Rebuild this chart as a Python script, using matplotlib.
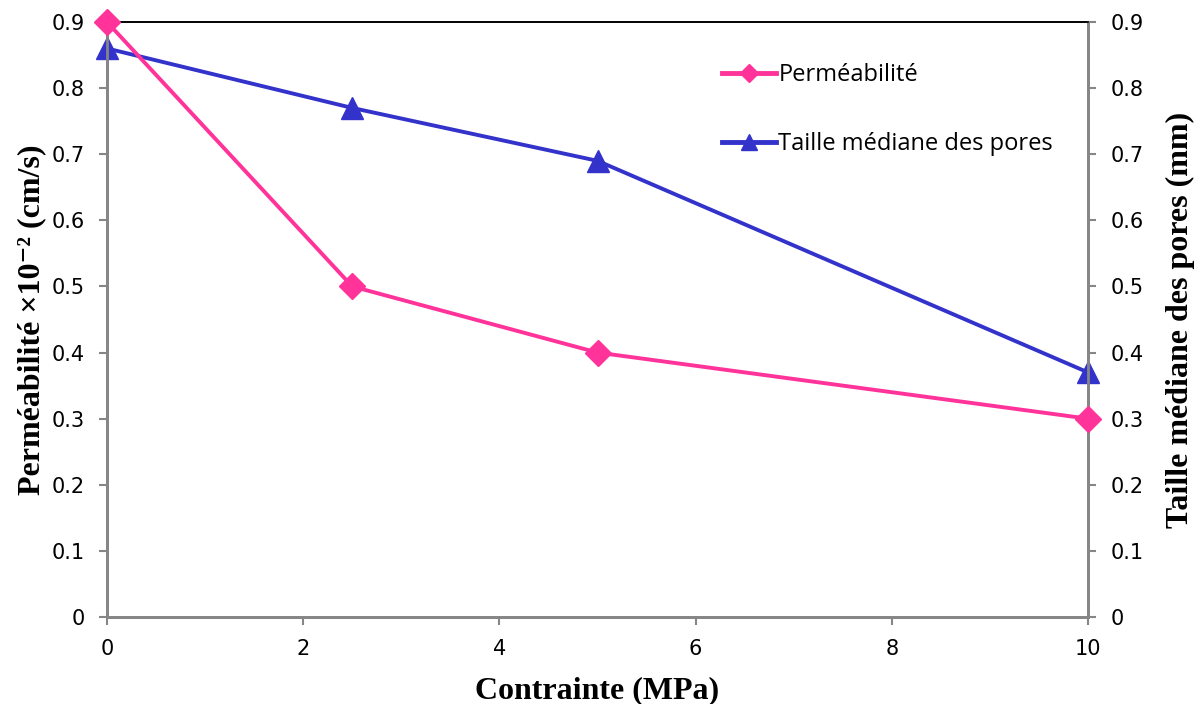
import matplotlib
matplotlib.use("Agg")
import matplotlib.pyplot as plt

# data
contrainte = [0, 2.5, 5, 10]
permeabilite = [0.9, 0.5, 0.4, 0.3]
taille_pores = [0.86, 0.77, 0.69, 0.37]
y_ticks = [0, 0.1, 0.2, 0.3, 0.4, 0.5, 0.6, 0.7, 0.8, 0.9]
x_ticks = [0, 2, 4, 6, 8, 10]

PINK = "#FF3399"
BLUE = "#3333CC"
GRAY = "#868686"
SERIF = ["Liberation Serif", "DejaVu Serif"]

fig = plt.figure(figsize=(12.02, 7.04), dpi=100)
ax = fig.add_axes([107 / 1202, 87 / 704, 981 / 1202, 595 / 704])
ax2 = ax.twinx()

ax.plot(contrainte, permeabilite, color=PINK, lw=2.8, marker="D", ms=13,
        label="Perméabilité", clip_on=False, zorder=3)
ax2.plot(contrainte, taille_pores, color=BLUE, lw=2.8, marker="^", ms=16,
         label="Taille médiane des pores", clip_on=False, zorder=3)

for a in (ax, ax2):
    a.set_xlim(0, 10)
    a.set_ylim(0, 0.9)
    a.set_yticks(y_ticks)
    a.set_yticklabels([f"{v:g}" for v in y_ticks])
    for side in ("left", "right", "bottom"):
        a.spines[side].set_color(GRAY)
        a.spines[side].set_linewidth(2)
    a.spines["top"].set_color("black")
    a.spines["top"].set_linewidth(1.2)
    a.tick_params(direction="out", length=6, width=1.5, color=GRAY,
                  labelsize=15, pad=10)

ax.set_xticks(x_ticks)
ax.set_xticklabels([str(v) for v in x_ticks])
ax.patch.set_visible(False)
ax.set_zorder(ax2.get_zorder() + 1)

ax.set_xlabel("Contrainte (MPa)", family=SERIF, fontweight="bold", fontsize=23, labelpad=12)
ax.set_ylabel("Perméabilité ×10⁻² (cm/s)", family=SERIF, fontweight="bold", fontsize=23,
              labelpad=4)
ax2.set_ylabel("Taille médiane des pores (mm)", family=SERIF, fontweight="bold", fontsize=23,
               labelpad=16)

h1, l1 = ax.get_legend_handles_labels()
h2, l2 = ax2.get_legend_handles_labels()
leg = ax.legend(h1 + h2, l1 + l2, loc="upper left", bbox_to_anchor=(0.605, 0.966),
                frameon=False, labelspacing=1.9, handlelength=2.3, markerscale=0.7,
                handletextpad=0.1, prop={"family": ["Open Sans", "DejaVu Sans"], "size": 17})
for line in leg.get_lines():
    line.set_linewidth(3.5)

fig.savefig("out.png", dpi=100)
